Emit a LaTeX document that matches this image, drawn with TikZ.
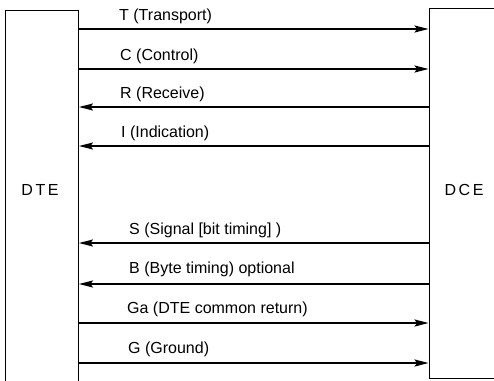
\documentclass[tikz,border=0pt]{standalone}
\usepackage{fontspec}
\setmainfont{Liberation Sans}
\usetikzlibrary{arrows.meta}

\begin{document}
\begin{tikzpicture}[
  x=1pt, y=-1pt,
  font=\fontsize{16}{18}\selectfont,
  >={Stealth[length=14pt,width=7pt,inset=2.5pt]},
  unit/.style={rectangle, draw=black, line width=0.9pt, inner sep=0pt},
  uname/.style={anchor=base, inner sep=0pt,
                font=\fontsize{16}{18}\selectfont\addfontfeature{LetterSpace=16}},
  wire/.style={draw=black, line width=1.8pt},
  lbl/.style={anchor=base west, inner sep=0pt},
]

% --- fixed bounding box (white background) ---
\useasboundingbox (0,0) rectangle (494,380);
\fill[white] (0,0) rectangle (494,380);
\clip (0,0) rectangle (494,380);

% ============================ UNITS =================================
% DTE on the left, DCE on the right (both run past the frame)
\node[unit, minimum width=73pt, minimum height=390pt] (dte) at (42,205) {};
\node[unit, minimum width=101pt, minimum height=370pt] (dce) at (479.5,193) {};
\node[uname] (dtename) at (40,195) {DTE};
\node[uname] (dcename) at (464,195) {DCE};

% ============================ WIRES =================================
% DTE -> DCE
\draw[wire, ->] (dte.east |- 0,29) -- (dce.west |- 0,29);
\node[lbl] (tlbl) at (119,20) {T (Transport)};
\draw[wire, ->] (dte.east |- 0,69) -- (dce.west |- 0,69);
\node[lbl] (clbl) at (120,60) {C (Control)};

% DCE -> DTE
\draw[wire, ->] (dce.west |- 0,107) -- (dte.east |- 0,107);
\node[lbl] (rlbl) at (120,98) {R (Receive)};
\draw[wire, ->] (dce.west |- 0,146) -- (dte.east |- 0,146);
\node[lbl] (ilbl) at (121,137) {I (Indication)};

% timing, DCE -> DTE
\draw[wire, ->] (dce.west |- 0,243) -- (dte.east |- 0,243);
\node[lbl] (slbl) at (129,234) {S (Signal [bit timing] )};
\draw[wire, ->] (dce.west |- 0,284) -- (dte.east |- 0,284);
\node[lbl] (blbl) at (129,273) {B (Byte timing) optional};

% returns, DTE -> DCE
\draw[wire, ->] (dte.east |- 0,323) -- (dce.west |- 0,323);
\node[lbl] (galbl) at (127,313) {Ga (DTE common return)};
\draw[wire, ->] (dte.east |- 0,363) -- (dce.west |- 0,363);
\node[lbl] (glbl) at (128,353) {G (Ground)};

\end{tikzpicture}
\end{document}
